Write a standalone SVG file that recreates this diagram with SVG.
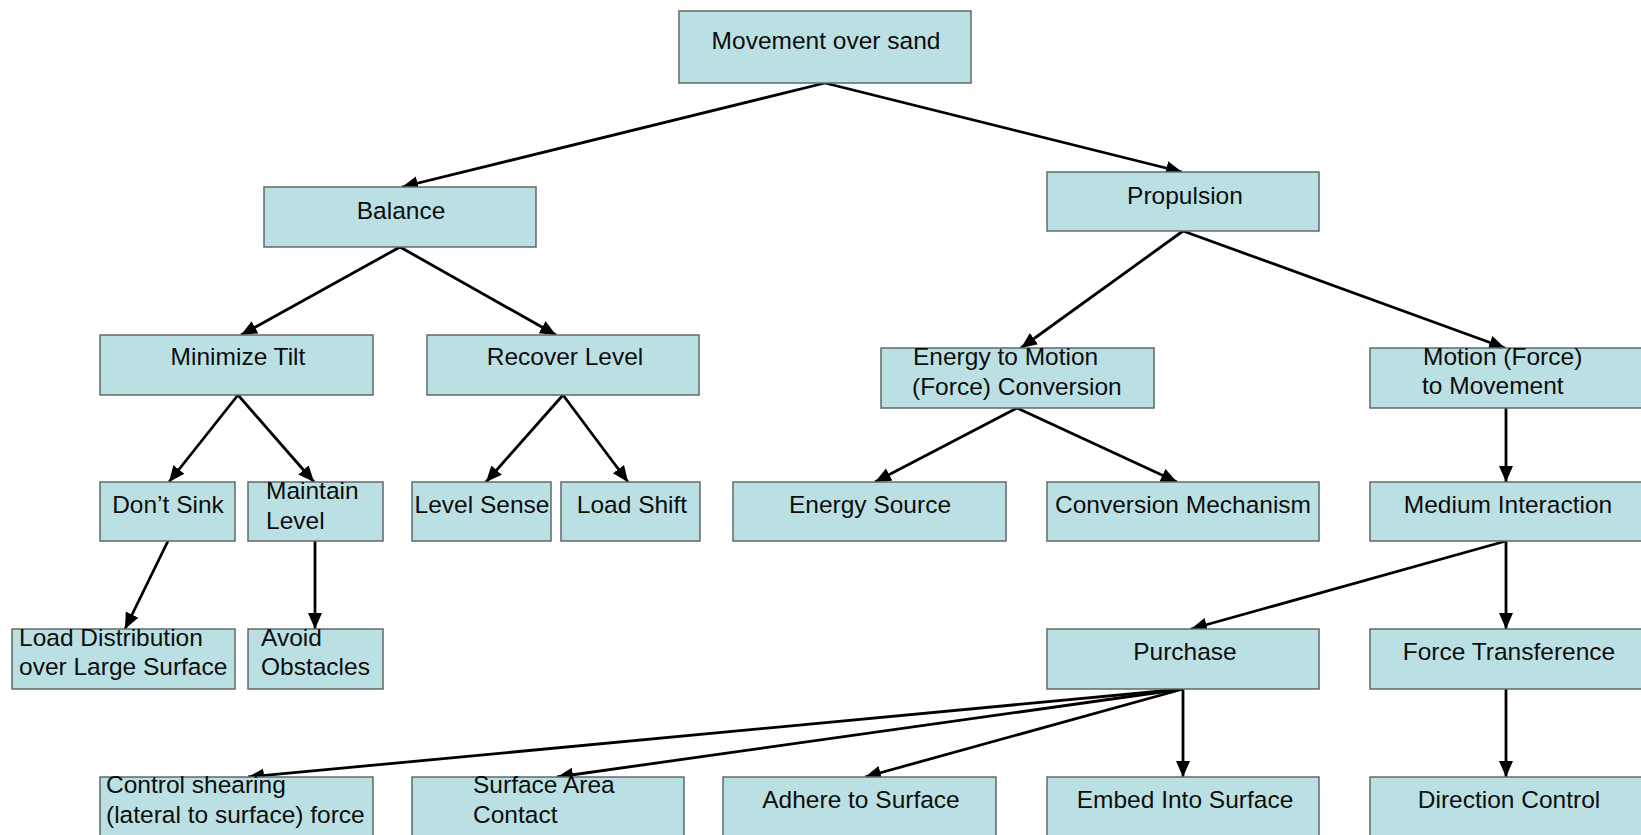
<svg xmlns="http://www.w3.org/2000/svg" width="1641" height="835" viewBox="0 0 1641 835">
<style>
  .box { fill: #BBE0E3; stroke: #5f6969; stroke-width: 1.5; }
  .t { font-family: "Liberation Sans", Arial, sans-serif; font-size: 24.5px; fill: #0d0d0d; }
  .c { text-anchor: middle; }
  .edge { stroke: #000; stroke-width: 2.8; fill: none; marker-end: url(#arr); }
</style>
<defs>
  <marker id="arr" markerUnits="userSpaceOnUse" markerWidth="18" markerHeight="16" refX="16" refY="7" orient="auto">
    <path d="M0,0 L16,7 L0,14 z" fill="#000"/>
  </marker>
</defs>
<rect width="1641" height="835" fill="#fff"/>

<g id="connectors">
  <line class="edge" x1="825" y1="83" x2="402" y2="187"/>
  <line class="edge" x1="825" y1="83" x2="1182" y2="172"/>
  <line class="edge" x1="400" y1="247" x2="241" y2="335"/>
  <line class="edge" x1="400" y1="247" x2="556" y2="335"/>
  <line class="edge" x1="1183" y1="231" x2="1021" y2="348"/>
  <line class="edge" x1="1183" y1="231" x2="1505" y2="348"/>
  <line class="edge" x1="238" y1="395" x2="169" y2="482"/>
  <line class="edge" x1="238" y1="395" x2="314" y2="482"/>
  <line class="edge" x1="563" y1="395" x2="486" y2="482"/>
  <line class="edge" x1="563" y1="395" x2="628" y2="482"/>
  <line class="edge" x1="1017" y1="408" x2="875" y2="482"/>
  <line class="edge" x1="1017" y1="408" x2="1177" y2="482"/>
  <line class="edge" x1="1506" y1="408" x2="1506" y2="482"/>
  <line class="edge" x1="168" y1="541" x2="125" y2="629"/>
  <line class="edge" x1="315" y1="541" x2="315" y2="629"/>
  <line class="edge" x1="1506" y1="541" x2="1191" y2="629"/>
  <line class="edge" x1="1506" y1="541" x2="1506" y2="629"/>
  <line class="edge" x1="1183" y1="689" x2="248" y2="777"/>
  <line class="edge" x1="1183" y1="689" x2="557" y2="777"/>
  <line class="edge" x1="1183" y1="689" x2="865" y2="777"/>
  <line class="edge" x1="1183" y1="689" x2="1183" y2="777"/>
  <line class="edge" x1="1506" y1="689" x2="1506" y2="777"/>
</g>

<g id="root"><rect class="box" x="679" y="11" width="292" height="72"/><text class="t c" x="826" y="49">Movement over sand</text></g>
<g id="balance"><rect class="box" x="264" y="187" width="272" height="60"/><text class="t c" x="401" y="219">Balance</text></g>
<g id="propulsion"><rect class="box" x="1047" y="172" width="272" height="59"/><text class="t c" x="1185" y="204">Propulsion</text></g>
<g id="minimize-tilt"><rect class="box" x="100" y="335" width="273" height="60"/><text class="t c" x="238" y="365">Minimize Tilt</text></g>
<g id="recover-level"><rect class="box" x="427" y="335" width="272" height="60"/><text class="t c" x="565" y="365">Recover Level</text></g>
<g id="energy-to-motion"><rect class="box" x="881" y="348" width="273" height="60"/><text class="t" x="913" y="365">Energy to Motion</text><text class="t" x="912" y="395">(Force) Conversion</text></g>
<g id="motion-to-movement"><rect class="box" x="1370" y="348" width="273" height="60"/><text class="t" x="1423" y="365">Motion (Force)</text><text class="t" x="1422" y="394">to Movement</text></g>
<g id="dont-sink"><rect class="box" x="100" y="482" width="135" height="59"/><text class="t c" x="168" y="513">Don’t Sink</text></g>
<g id="maintain-level"><rect class="box" x="248" y="482" width="135" height="59"/><text class="t" x="266" y="499">Maintain</text><text class="t" x="266" y="529">Level</text></g>
<g id="level-sense"><rect class="box" x="412" y="482" width="139" height="59"/><text class="t c" x="482" y="513">Level Sense</text></g>
<g id="load-shift"><rect class="box" x="561" y="482" width="139" height="59"/><text class="t c" x="632" y="513">Load Shift</text></g>
<g id="energy-source"><rect class="box" x="733" y="482" width="273" height="59"/><text class="t c" x="870" y="513">Energy Source</text></g>
<g id="conversion-mechanism"><rect class="box" x="1047" y="482" width="272" height="59"/><text class="t c" x="1183" y="513">Conversion Mechanism</text></g>
<g id="medium-interaction"><rect class="box" x="1370" y="482" width="273" height="59"/><text class="t c" x="1508" y="513">Medium Interaction</text></g>
<g id="load-distribution"><rect class="box" x="12" y="629" width="223" height="60"/><text class="t" x="19" y="646">Load Distribution</text><text class="t" x="19" y="675">over Large Surface</text></g>
<g id="avoid-obstacles"><rect class="box" x="248" y="629" width="135" height="60"/><text class="t" x="261" y="646">Avoid</text><text class="t" x="261" y="675">Obstacles</text></g>
<g id="purchase"><rect class="box" x="1047" y="629" width="272" height="60"/><text class="t c" x="1185" y="660">Purchase</text></g>
<g id="force-transference"><rect class="box" x="1370" y="629" width="273" height="60"/><text class="t c" x="1509" y="660">Force Transference</text></g>
<g id="control-shearing"><rect class="box" x="100" y="777" width="273" height="62"/><text class="t" x="106" y="793">Control shearing</text><text class="t" x="106" y="823">(lateral to surface) force</text></g>
<g id="surface-area-contact"><rect class="box" x="412" y="777" width="272" height="62"/><text class="t" x="473" y="793">Surface Area</text><text class="t" x="473" y="823">Contact</text></g>
<g id="adhere-to-surface"><rect class="box" x="723" y="777" width="273" height="62"/><text class="t c" x="861" y="808">Adhere to Surface</text></g>
<g id="embed-into-surface"><rect class="box" x="1047" y="777" width="272" height="62"/><text class="t c" x="1185" y="808">Embed Into Surface</text></g>
<g id="direction-control"><rect class="box" x="1370" y="777" width="273" height="62"/><text class="t c" x="1509" y="808">Direction Control</text></g>
</svg>
